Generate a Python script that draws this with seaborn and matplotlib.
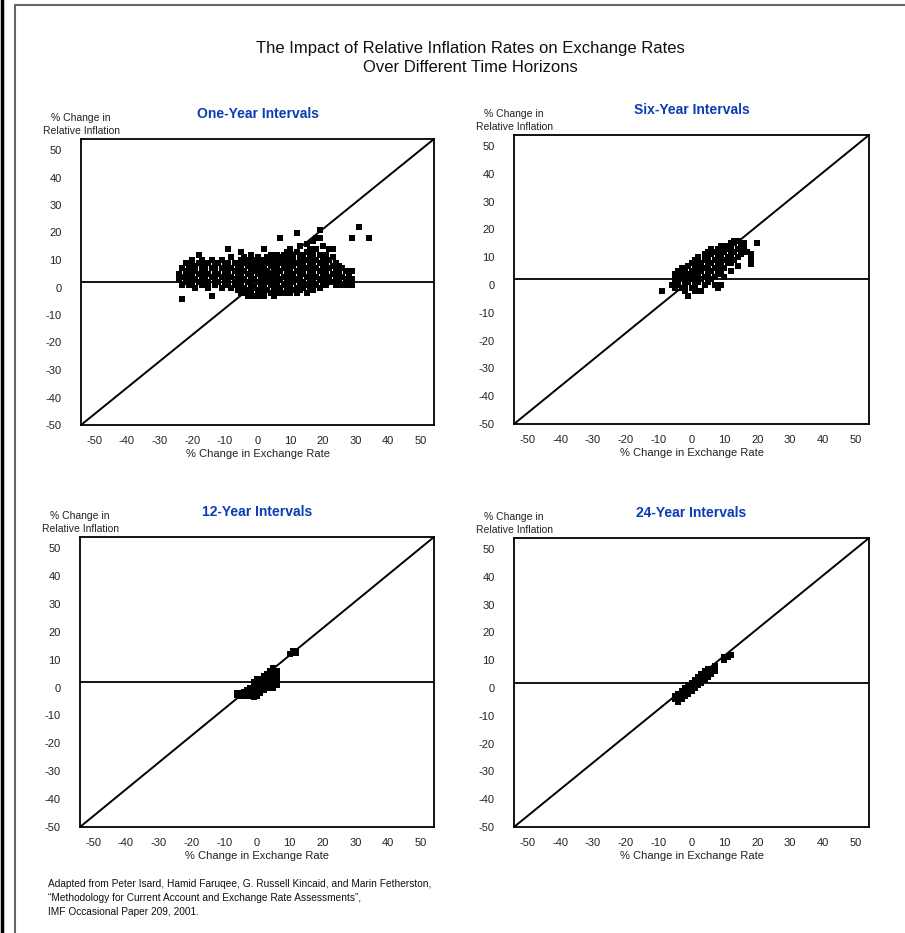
import numpy as np
import matplotlib
matplotlib.use("Agg")
import matplotlib.pyplot as plt
import seaborn as sns
import pandas as pd
from matplotlib.lines import Line2D

sns.set_style("white")
plt.rcParams["font.family"] = ["Liberation Sans", "DejaVu Sans"]
plt.rcParams["axes.unicode_minus"] = False

# Data: x (% change in exchange rate) -> list of y (% change in relative inflation)
one_year = {
    -24: [5, 3], -23: [7, 4, 1, -4], -22: [9, 6, 2, 4], -21: [8, 5, 3, 1],
    -20: [10, 7, 4, 2], -19: [6, 3, 8, 0], -18: [12, 5, 2, 9], -17: [7, 4, 1, 10],
    -16: [6, 3, 8], -15: [5, 2, 9, 0], -14: [7, 4, -3, 10], -13: [6, 1, 8, 3],
    -12: [9, 5, 2], -11: [7, 4, 10, 0], -10: [6, 3, 8, 1], -9: [14, 5, 2, 9],
    -8: [7, 4, 0, 11], -7: [6, 3, 9, 1], -6: [8, 5, 2, -1], -5: [13, 10, 7, 4, 1, -2],
    -4: [9, 6, 3, 0, -2, 11], -3: [8, 5, 2, -1, 10, -3], -2: [7, 4, 1, -2, 9, 12],
    -1: [10, 6, 3, 0, -3, 8], 0: [9, 5, 2, -1, 7, 11, -3], 1: [8, 4, 1, -2, 6, 10],
    2: [14, 7, 3, 0, -3, 9, 5], 3: [9, 6, 2, -1, 11, 4], 4: [8, 5, 1, -2, 10, 3, 12],
    5: [7, 4, 0, -3, 9, 11, 2], 6: [12, 8, 5, 2, -1, 10], 7: [18, 9, 6, 3, 0, -2, 11],
    8: [10, 7, 4, 1, -2, 12, 8], 9: [11, 8, 5, 2, -1, 6, 13], 10: [14, 9, 6, 3, 0, -2, 11],
    11: [12, 8, 5, 2, -1, 10, 4], 12: [20, 13, 9, 6, 3, 0, -2], 13: [15, 11, 7, 4, 1, -1, 9],
    14: [12, 8, 5, 2, 0, 10, 6], 15: [16, 10, 7, 4, 1, -2, 13], 16: [14, 9, 6, 3, 0, 11],
    17: [17, 12, 8, 5, 2, -1], 18: [18, 10, 7, 4, 1, 14], 19: [21, 18, 12, 9, 6, 3, 0],
    20: [15, 11, 8, 5, 2, 1], 21: [12, 9, 6, 3, 1], 22: [14, 10, 7, 4, 2],
    23: [14, 11, 8, 5, 2], 24: [9, 6, 3, 1], 25: [8, 5, 2], 26: [7, 4, 1],
    27: [6, 3, 1], 28: [5, 2, 1], 29: [18, 6, 3, 1], 31: [22], 34: [18],
}
six_year = {
    -9: [-2], -6: [0], -5: [2, 4, -1], -4: [3, 1, 5, 0], -3: [2, 6, -1, 4],
    -2: [0, 3, 5, -2], -1: [1, 4, -4, 7, 2], 0: [2, 5, -1, 8, 3], 1: [3, 6, 0, 9, -2],
    2: [4, 7, 1, 10, -2], 3: [5, 8, 2, -2, 6], 4: [6, 9, 3, 11, 0], 5: [7, 10, 4, 1, 12],
    6: [8, 5, 11, 2, 13], 7: [9, 6, 12, 3, 0], 8: [10, 7, 13, 4, -1], 9: [11, 8, 14, 5, 0],
    10: [12, 9, 6, 14, 3], 11: [13, 10, 8, 14], 12: [14, 11, 8, 15, 5], 13: [15, 12, 9, 16],
    14: [13, 10, 16, 7], 15: [14, 11, 12], 16: [13, 15], 17: [12], 18: [11, 9, 7.5], 20: [15],
}
twelve_year = {
    -6: [-2.5, -2], -5: [-2, -3], -4: [-2, -3, -1.5], -3: [-1, -2.5, -3],
    -2: [-1, 0, -2, -3], -1: [0, 1, -1, -2, -3.5, 2], 0: [0, 1, 2, 3, -1, -2, -3],
    1: [1, 2, 3, 0, -1, -2], 2: [2, 3, 1, 0, -1, 4], 3: [3, 4, 2, 1, 5, 0],
    4: [4, 5, 3, 2, 6, 1, 0], 5: [5, 6, 3, 2, 7, 1, 0], 6: [4, 2, 6, 1],
    10: [12], 11: [13], 12: [13, 12.5],
}
twentyfour_year = {
    -5: [-3, -4], -4: [-3, -5, -2], -3: [-2, -3, -1, -4], -2: [-1, -2, 0, -3],
    -1: [0, -1, 1, -2], 0: [0, 1, -1, 2], 1: [1, 2, 0, 3], 2: [2, 3, 1, 4],
    3: [3, 4, 2, 5], 4: [4, 5, 3, 6], 5: [5, 6, 4, 7], 6: [6, 7, 5], 7: [7, 6, 8],
    10: [10, 11], 11: [11], 12: [12],
}

panel_titles = ["One-Year Intervals", "Six-Year Intervals", "12-Year Intervals", "24-Year Intervals"]
panel_data = [one_year, six_year, twelve_year, twentyfour_year]
ticks = [-50, -40, -30, -20, -10, 0, 10, 20, 30, 40, 50]
zero_line = 2

W, H = 905, 933
fig = plt.figure(figsize=(W / 100, H / 100), dpi=100)

# axes boxes in pixels: left, top, right, bottom
boxes = [(81, 139, 434, 425), (514, 135, 869, 424), (80, 537, 434, 827), (514, 538, 869, 827)]

for box, title, data in zip(boxes, panel_titles, panel_data):
    l, t, r, b = box
    ax = fig.add_axes([l / W, 1 - b / H, (r - l) / W, (b - t) / H])
    df = pd.DataFrame(
        [(x, y) for x, ys in data.items() for y in ys], columns=["x", "y"]
    )
    sns.scatterplot(data=df, x="x", y="y", ax=ax, marker="s", s=17,
                    color="black", linewidth=0, zorder=3)
    ax.plot([0, 1], [0, 1], transform=ax.transAxes, color="black", lw=1.4)
    ax.axhline(zero_line, color="black", lw=1.3)
    ax.set_xlim(-54, 54)
    ax.set_ylim(-50, 54)
    ax.set_xticks(ticks)
    ax.set_yticks(ticks)
    ax.tick_params(axis="x", length=0, pad=8, labelsize=8, labelcolor="#222222")
    ax.tick_params(axis="y", length=0, pad=14, labelsize=8, labelcolor="#222222")
    for s in ax.spines.values():
        s.set_color("black")
        s.set_linewidth(1.3)
    ax.set_xlabel("% Change in Exchange Rate", fontsize=8, labelpad=2, color="#222222")
    ax.set_ylabel("")
    ax.text(0, 1 + 3 / (b - t), "% Change in\nRelative Inflation", transform=ax.transAxes,
            ha="center", va="bottom", fontsize=7.5, linespacing=1.4, color="#222222")
    ax.text(0.5, 1 + 18 / (b - t), title, transform=ax.transAxes, ha="center",
            va="bottom", fontsize=10, fontweight="heavy", color="#0a3cb4")

fig.text(470 / W, 1 - 58 / H, "The Impact of Relative Inflation Rates on Exchange Rates\nOver Different Time Horizons",
         ha="center", va="center", fontsize=12, linespacing=1.25, color="#111111")

fig.text(48 / W, 1 - 879 / H,
         "Adapted from Peter Isard, Hamid Faruqee, G. Russell Kincaid, and Marin Fetherston,\n"
         "\u201cMethodology for Current Account and Exchange Rate Assessments\u201d,\n"
         "IMF Occasional Paper 209, 2001.",
         ha="left", va="top", fontsize=7.3, linespacing=1.5, color="#111111")

# page frame
fig.add_artist(Line2D([1.5 / W, 1.5 / W], [0, 1], color="black", lw=2.5))
fig.add_artist(Line2D([15 / W, 15 / W], [0, 1 - 5 / H], color="#666666", lw=1.5))
fig.add_artist(Line2D([15 / W, 1], [1 - 5 / H, 1 - 5 / H], color="#666666", lw=1.5))

fig.savefig("out.png", dpi=100)
